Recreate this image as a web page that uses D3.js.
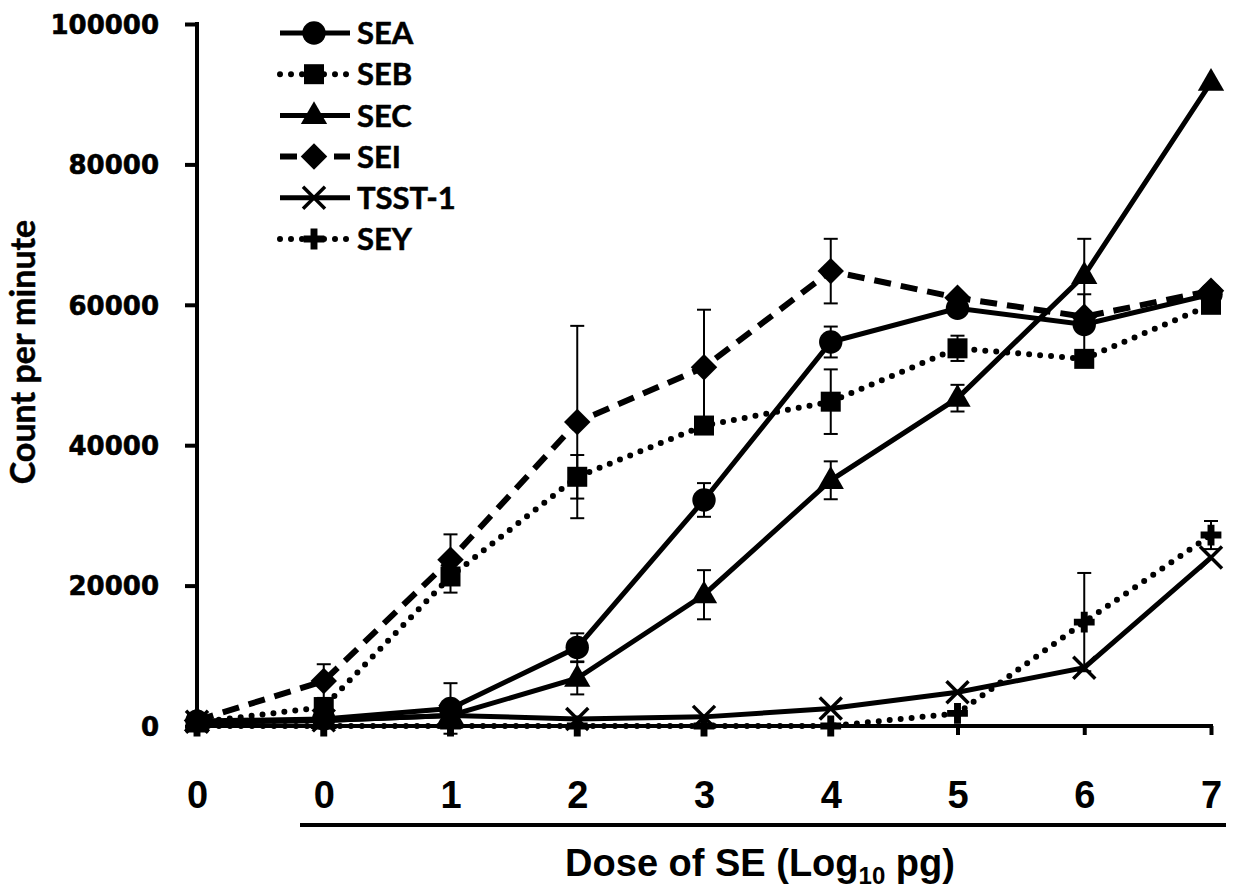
<!DOCTYPE html>
<html>
<head>
<meta charset="utf-8">
<script src="https://cdn.jsdelivr.net/npm/d3@7"></script>
<style>
  html, body { margin: 0; padding: 0; background: #fff; }
  svg { display: block; }
</style>
</head>
<body>
<svg id="chart" width="1233" height="888"></svg>
<script>
// ---- data ----
const xTickLabels = ["0", "0", "1", "2", "3", "4", "5", "6", "7"];
const yTicks = [0, 20000, 40000, 60000, 80000, 100000];
const seriesNames = ["SEA", "SEB", "SEC", "SEI", "TSST-1", "SEY"];

const SEA   = [700, 1000, 2500, 11200, 32200, 54700, 59500, 57200, 61500];
const SEB   = [500, 2700, 21300, 35500, 42800, 46200, 53800, 52300, 60000];
const SEC   = [500, 800, 1500, 6800, 18700, 35000, 46700, 64200, 91700];
const SEI   = [800, 6400, 23700, 43300, 51100, 64800, 61000, 58300, 62000];
const TSST1 = [600, 800, 1500, 1000, 1300, 2500, 4800, 8300, 24000];
const SEY   = [0, 0, 0, 0, 0, 0, 1800, 14800, 27200];

// error bars (symmetric SD); 0 = none shown
const SEA_err   = [0, 0, 3600, 2000, 2400, 2200, 0, 4300, 0];
const SEB_err   = [0, 0, 2300, 3100, 0, 4600, 1800, 0, 0];
const SEC_err   = [0, 0, 0, 2300, 3500, 2700, 1900, 5200, 0];
const SEI_err   = [0, 2400, 3600, 13700, 8200, 4600, 0, 0, 0];
const TSST1_err = [0, 0, 0, 0, 0, 0, 0, 0, 0];
const SEY_err   = [0, 0, 0, 0, 0, 0, 0, 7000, 2000];

const valuesList = [SEA, SEB, SEC, SEI, TSST1, SEY];
const errList = [SEA_err, SEB_err, SEC_err, SEI_err, TSST1_err, SEY_err];

// ---- styles ----
const styles = {
  "SEA":    { dash: null,     width: 5, cap: "butt",  marker: "circle" },
  "SEB":    { dash: "0 11",   width: 6, cap: "round", marker: "square" },
  "SEC":    { dash: null,     width: 5, cap: "butt",  marker: "triangle" },
  "SEI":    { dash: "17 10",  width: 6, cap: "butt",  marker: "diamond" },
  "TSST-1": { dash: null,     width: 5, cap: "butt",  marker: "x" },
  "SEY":    { dash: "0 11",   width: 6, cap: "round", marker: "plus" }
};

const svg = d3.select("#chart");
const x = d3.scaleLinear().domain([0, xTickLabels.length - 1]).range([197, 1211]);
const y = d3.scaleLinear().domain([0, 100000]).range([726, 24]);

function drawMarker(g, type, cx, cy, scale) {
  scale = scale || 1;
  const t = `translate(${cx},${cy})`;
  if (type === "circle") {
    g.append("path").attr("d", d3.symbol(d3.symbolCircle, 430 * scale)()).attr("transform", t).attr("fill", "#000");
  } else if (type === "square") {
    g.append("path").attr("d", d3.symbol(d3.symbolSquare, 400 * scale)()).attr("transform", t).attr("fill", "#000");
  } else if (type === "triangle") {
    g.append("path").attr("d", d3.symbol(d3.symbolTriangle, 300 * scale)()).attr("transform", t + " translate(0,1)").attr("fill", "#000");
  } else if (type === "diamond") {
    g.append("path").attr("d", d3.symbol(d3.symbolSquare, 350 * scale)()).attr("transform", t + " rotate(45)").attr("fill", "#000");
  } else if (type === "x") {
    const s = 11 * Math.sqrt(scale);
    g.append("path").attr("d", `M${-s},${-s}L${s},${s}M${-s},${s}L${s},${-s}`)
      .attr("transform", t).attr("stroke", "#000").attr("stroke-width", 3.5).attr("fill", "none");
  } else if (type === "plus") {
    g.append("path").attr("d", d3.symbol(d3.symbolCross, 240 * scale)()).attr("transform", t).attr("fill", "#000");
  }
}

// ---- axes ----
const axisG = svg.append("g");
// y axis
const yAxis = d3.axisLeft(y).tickValues(yTicks).tickSize(12).tickFormat(d3.format("d"));
const yg = axisG.append("g").attr("transform", "translate(197,0)").call(yAxis);
yg.select(".domain").attr("d", `M0,${y(100000) - 2}V${y(0) + 4}`).attr("stroke", "#000").attr("stroke-width", 4);
yg.selectAll(".tick line").attr("stroke", "#000").attr("stroke-width", 4);
yg.selectAll(".tick text")
  .attr("x", -38).attr("dy", "0.36em")
  .style("font-family", "'DejaVu Sans', Verdana, sans-serif")
  .style("font-weight", "bold").style("font-size", "26px")
  .attr("fill", "#000").attr("stroke", "#000").attr("stroke-width", 0.6);

// x axis
const xAxis = d3.axisBottom(x).tickValues(d3.range(xTickLabels.length)).tickSize(9).tickFormat(i => xTickLabels[i]);
const xg = axisG.append("g").attr("transform", `translate(0,${y(0)})`).call(xAxis);
xg.select(".domain").attr("d", `M${x(0)},0H${x(8) + 2}`).attr("stroke", "#000").attr("stroke-width", 4);
xg.selectAll(".tick line").attr("stroke", "#000").attr("stroke-width", 4);
xg.selectAll(".tick").filter(i => i === 0).select("line").remove();
xg.selectAll(".tick text")
  .attr("y", 0).attr("dy", "82px")
  .style("font-family", "'Liberation Sans Narrow', 'Arial Narrow', 'Liberation Sans', Arial, sans-serif")
  .style("font-weight", "bold").style("font-size", "38px").attr("fill", "#000");

// second bracket line under the dose labels
svg.append("line").attr("x1", 300).attr("x2", 1226).attr("y1", 825).attr("y2", 825)
  .attr("stroke", "#000").attr("stroke-width", 4);

// axis titles
const xt = svg.append("text").attr("x", 760).attr("y", 876).attr("text-anchor", "middle")
  .style("font-family", "'Liberation Sans Narrow', 'Arial Narrow', 'Liberation Sans', Arial, sans-serif")
  .style("font-weight", "bold").style("font-size", "38px").attr("fill", "#000");
xt.append("tspan").text("Dose of SE (Log");
xt.append("tspan").attr("dy", 8).style("font-size", "24px").text("10");
xt.append("tspan").attr("dy", -8).text(" pg)");

svg.append("text").attr("transform", "translate(35,352) rotate(-90)")
  .attr("text-anchor", "middle")
  .style("font-family", "Lato, 'Open Sans', sans-serif")
  .style("font-weight", "bold").style("font-size", "34px")
  .attr("fill", "#000").attr("stroke", "#000").attr("stroke-width", 0.5)
  .text("Count per minute");

// ---- series ----
const plot = svg.append("g");
const line = d3.line().x((d, i) => x(i)).y(d => y(d));

seriesNames.forEach((name, si) => {
  const st = styles[name];
  const vals = valuesList[si];
  const errs = errList[si];
  const g = plot.append("g");
  // error bars
  vals.forEach((v, i) => {
    const e = errs[i];
    if (!e) return;
    const cx = x(i);
    g.append("line").attr("x1", cx).attr("x2", cx).attr("y1", y(v - e)).attr("y2", y(v + e))
      .attr("stroke", "#000").attr("stroke-width", 2);
    [v - e, v + e].forEach(b => {
      g.append("line").attr("x1", cx - 7).attr("x2", cx + 7).attr("y1", y(b)).attr("y2", y(b))
        .attr("stroke", "#000").attr("stroke-width", 2);
    });
  });
  g.append("path").attr("d", line(vals)).attr("fill", "none").attr("stroke", "#000")
    .attr("stroke-width", st.width).attr("stroke-linecap", st.cap)
    .attr("stroke-dasharray", st.dash);
  vals.forEach((v, i) => drawMarker(g, st.marker, x(i), y(v)));
});

// ---- legend ----
const legend = svg.append("g");
const legendY0 = 33, legendStep = 41.2;
seriesNames.forEach((name, i) => {
  const st = styles[name];
  const ly = legendY0 + i * legendStep;
  const lg = legend.append("g");
  lg.append("line").attr("x1", 280).attr("x2", 350).attr("y1", ly).attr("y2", ly)
    .attr("stroke", "#000").attr("stroke-width", st.width).attr("stroke-linecap", st.cap)
    .attr("stroke-dasharray", st.dash);
  drawMarker(lg, st.marker, 314, ly);
  lg.append("text").attr("x", 357).attr("y", ly).attr("dy", "0.36em")
    .style("font-family", "Lato, 'Open Sans', sans-serif")
    .style("font-weight", "bold").style("font-size", "31px")
    .attr("fill", "#000").attr("stroke", "#000").attr("stroke-width", 0.5)
    .text(name);
});
</script>
</body>
</html>
